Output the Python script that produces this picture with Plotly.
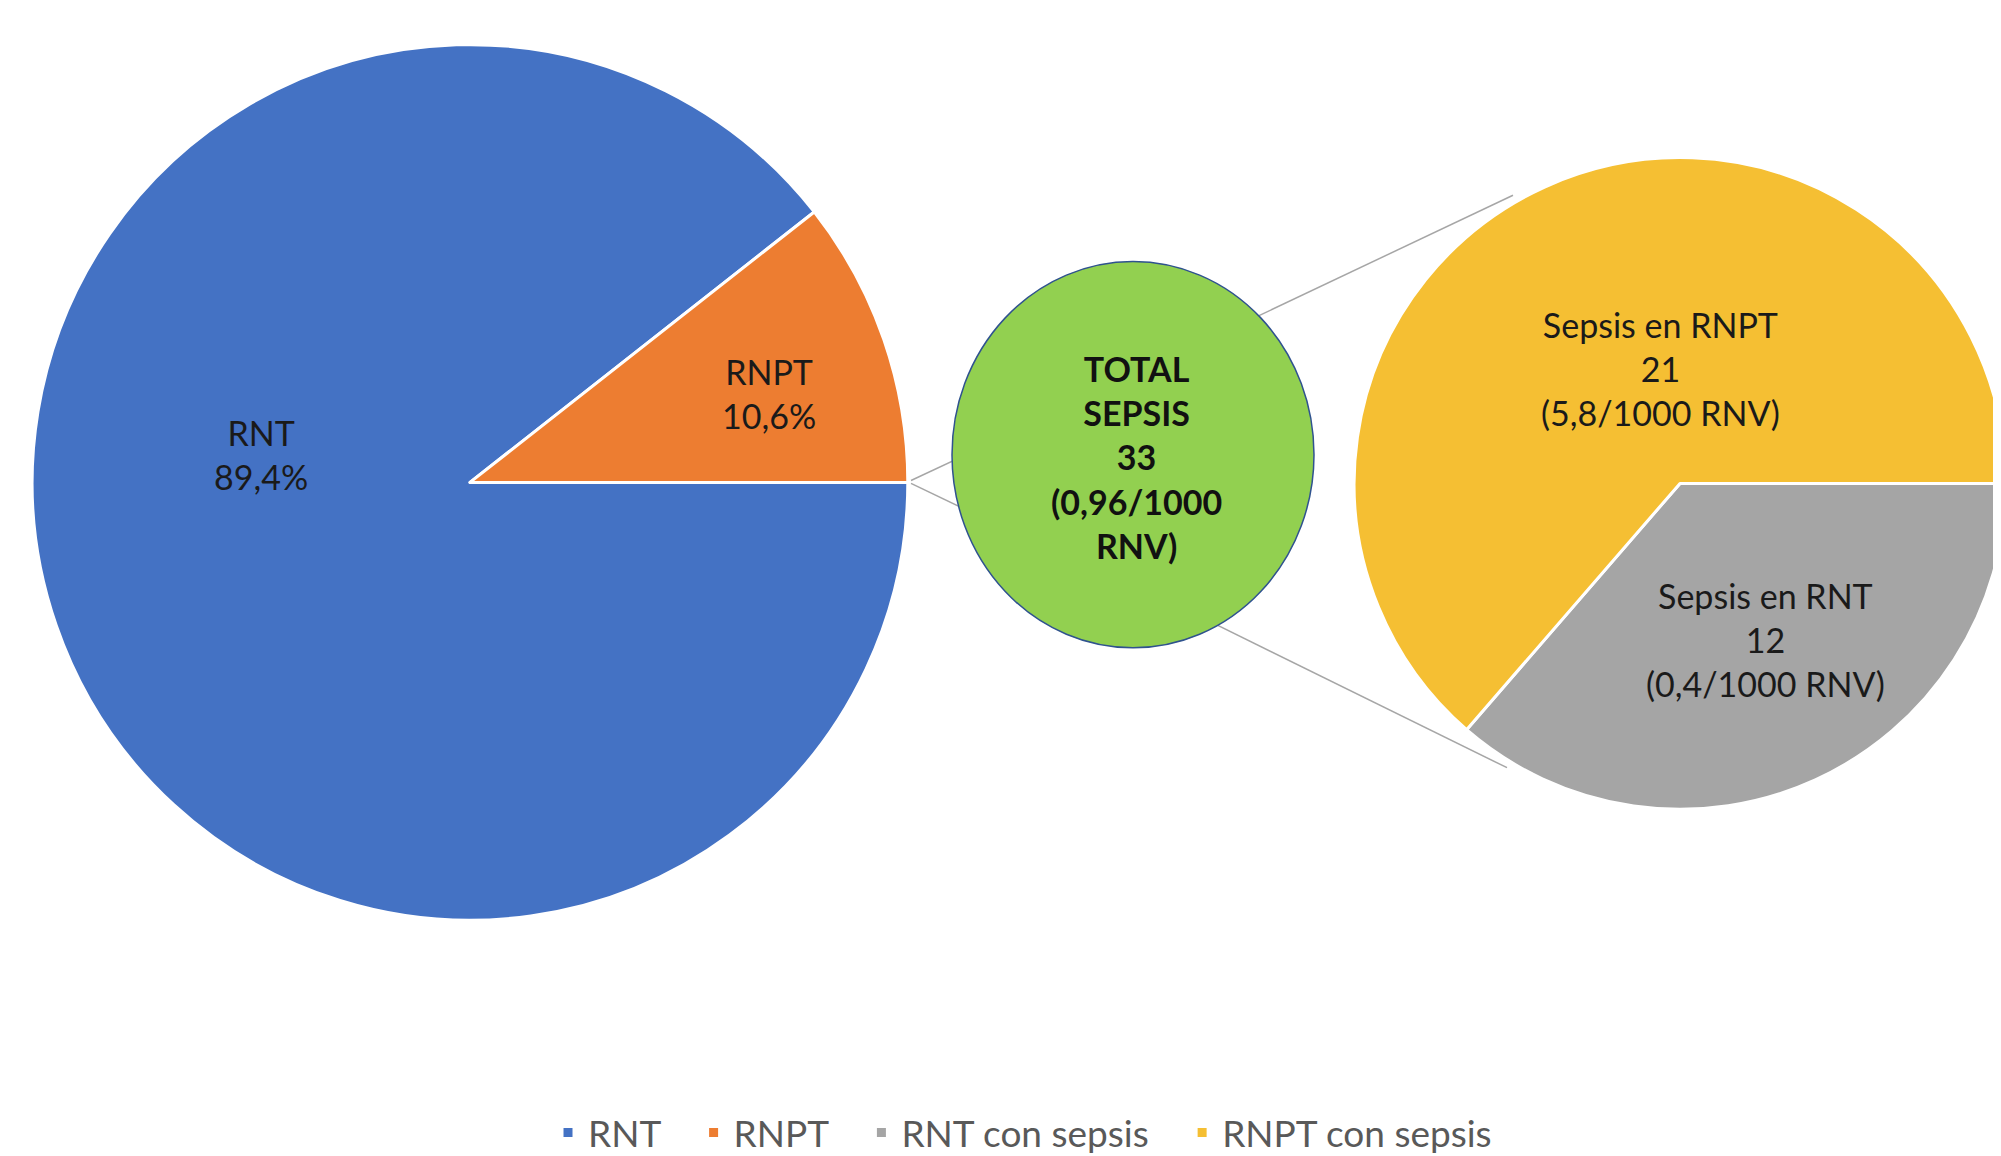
import plotly.graph_objects as go

W, H = 2001, 1156

# ---- data ----
main_labels = ["RNT", "RNPT"]
main_values = [89.4, 10.6]
main_pct_text = ["89,4%", "10,6%"]
main_colors = ["#4472C4", "#ED7D31"]

sepsis_labels = ["RNT con sepsis", "RNPT con sepsis"]
sepsis_values = [12, 21]
sepsis_rates = ["(0,4/1000 RNV)", "(5,8/1000 RNV)"]
sepsis_names = ["Sepsis en RNT", "Sepsis en RNPT"]
sepsis_colors = ["#A5A5A5", "#F5BF33"]

total_sepsis = sum(sepsis_values)
total_rate = "(0,96/1000<br>RNV)"

FONT = "Lato"
TXT = "#1a1a1a"
PAD = "\u00a0" * 3  # extra spacing between legend entries


def px(x):
    return x / W


def py(y):
    return 1 - y / H


fig = go.Figure()

# main pie
fig.add_trace(go.Pie(
    labels=[l + PAD for l in main_labels], values=main_values, sort=False,
    direction="clockwise", rotation=90,
    marker=dict(colors=main_colors, line=dict(color="white", width=3)),
    textinfo="none", hoverinfo="label+percent",
    domain=dict(x=[px(20), px(904)], y=[py(921), py(37)]),
))

# sepsis pie
fig.add_trace(go.Pie(
    labels=[sepsis_labels[0] + PAD, sepsis_labels[1]], values=sepsis_values, sort=False,
    direction="clockwise", rotation=90,
    marker=dict(colors=sepsis_colors, line=dict(color="white", width=3)),
    textinfo="none", hoverinfo="label+value",
    domain=dict(x=[px(1343), 1.0], y=[py(809), py(151)]),
))

shapes = []
line_style = dict(color="#A6A6A6", width=1.5)
# connectors (below traces)
for (x0, y0, x1, y1) in [
    (903, 477, 992, 435),
    (903, 480, 992, 523),
    (1223, 324, 1505, 189),
    (1183, 610, 1499, 767),
]:
    shapes.append(dict(type="line", xref="paper", yref="paper",
                       x0=px(x0), y0=py(y0), x1=px(x1), y1=py(y1),
                       line=line_style, layer="below"))
# total sepsis circle
shapes.append(dict(type="circle", xref="paper", yref="paper",
                   x0=px(944), x1=px(1306), y0=py(646), y1=py(256),
                   fillcolor="#92D050", line=dict(color="#2F528F", width=1.5),
                   layer="above"))

annotations = []


def label(x, y, text, bold=False):
    annotations.append(dict(
        x=px(x), y=py(y), xref="paper", yref="paper", showarrow=False,
        text=("<b>%s</b>" % text) if bold else text,
        xanchor="center", yanchor="middle", align="center",
        font=dict(family=FONT, size=34, color="#111111" if bold else TXT),
    ))


label(253, 451, "%s<br>%s" % (main_labels[0], main_pct_text[0]))
label(761, 389, "%s<br>%s" % (main_labels[1], main_pct_text[1]))
label(1652, 364, "%s<br>%d<br>%s" % (sepsis_names[1], sepsis_values[1], sepsis_rates[1]))
label(1757, 638, "%s<br>%d<br>%s" % (sepsis_names[0], sepsis_values[0], sepsis_rates[0]))
label(1128, 453, "TOTAL<br>SEPSIS<br>%d<br>%s" % (total_sepsis, total_rate), bold=True)

fig.update_layout(
    width=W, height=H,
    margin=dict(l=0, r=0, t=0, b=0),
    paper_bgcolor="white", plot_bgcolor="white",
    shapes=shapes, annotations=annotations,
    showlegend=True,
    legend=dict(orientation="h", x=0.507, xanchor="center", y=py(1136), yanchor="middle",
                font=dict(family=FONT, size=37, color="#595959"),
                itemclick=False, itemdoubleclick=False, bgcolor="rgba(0,0,0,0)"),
)

fig.write_html("out.html")
